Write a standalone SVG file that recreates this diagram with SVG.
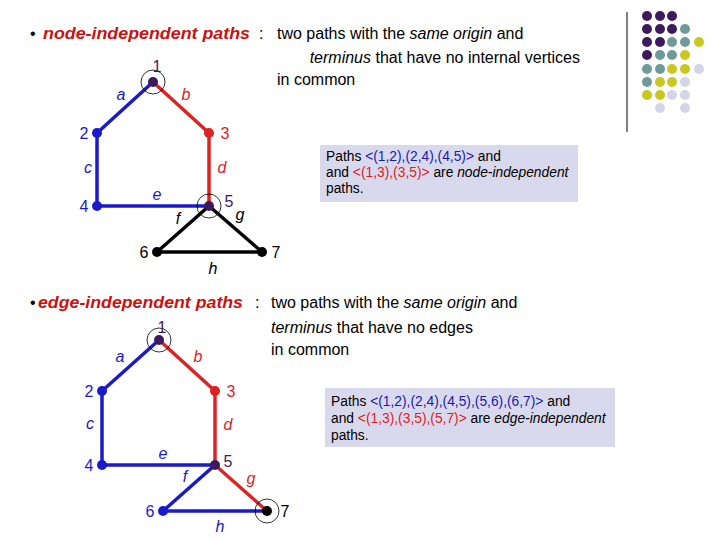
<svg xmlns="http://www.w3.org/2000/svg" width="720" height="540" viewBox="0 0 720 540">
<style>
text{font-family:"Liberation Sans",Arial,sans-serif}
.t{font-size:16px;fill:#000}
.h{font-size:17px;fill:#cc1111;font-style:italic;font-weight:bold}
.l{font-size:16px;font-style:italic}
.n{font-size:16px}
.bx{font-size:13.8px;fill:#000}
.B{stroke:#1a1acc;stroke-width:3.5}
.R{stroke:#dd2222;stroke-width:3.5}
.K{stroke:#000;stroke-width:3.5}
.ring{fill:none;stroke:#000;stroke-width:0.8}
.P{fill:#3d1a5e}.T{fill:#6f9a9a}.Y{fill:#c8c820}.L{fill:#d4d4ea}
</style>
<rect width="720" height="540" fill="#fff"/>
<g id="deco">
<line x1="627" y1="12" x2="627" y2="132" stroke="#000" stroke-width="1"/>
<circle class="P" cx="647" cy="16" r="5"/><circle class="P" cx="660" cy="16" r="5"/><circle class="P" cx="672" cy="16" r="5"/>
<circle class="P" cx="647" cy="29" r="5"/><circle class="P" cx="660" cy="29" r="5"/><circle class="P" cx="672" cy="29" r="5"/><circle class="T" cx="685" cy="29" r="5"/>
<circle class="P" cx="647" cy="42" r="5"/><circle class="P" cx="660" cy="42" r="5"/><circle class="T" cx="672" cy="42" r="5"/><circle class="T" cx="685" cy="42" r="5"/><circle class="Y" cx="699" cy="42" r="5"/>
<circle class="P" cx="647" cy="55" r="5"/><circle class="T" cx="660" cy="55" r="5"/><circle class="T" cx="672" cy="55" r="5"/><circle class="Y" cx="685" cy="55" r="5"/>
<circle class="T" cx="647" cy="69" r="5"/><circle class="T" cx="660" cy="69" r="5"/><circle class="Y" cx="672" cy="69" r="5"/><circle class="Y" cx="685" cy="69" r="5"/><circle class="L" cx="699" cy="69" r="5"/>
<circle class="T" cx="647" cy="82" r="5"/><circle class="Y" cx="660" cy="82" r="5"/><circle class="Y" cx="672" cy="82" r="5"/><circle class="L" cx="685" cy="82" r="5"/>
<circle class="Y" cx="647" cy="95" r="5"/><circle class="Y" cx="660" cy="95" r="5"/><circle class="L" cx="672" cy="95" r="5"/><circle class="L" cx="685" cy="95" r="5"/>
<circle class="L" cx="660" cy="108" r="5"/><circle class="L" cx="685" cy="108" r="5"/>
</g>
<g id="text-top">
<text x="30" y="39" class="t">•</text>
<text x="43" y="39" class="h" textLength="207" lengthAdjust="spacingAndGlyphs">node-independent paths</text>
<text x="259" y="39" class="t">:</text>
<text x="277" y="39" class="t">two paths with the <tspan font-style="italic">same origin</tspan> and</text>
<text x="580" y="63" class="t" text-anchor="end"><tspan font-style="italic">terminus</tspan> that have no internal vertices</text>
<text x="277" y="85" class="t">in common</text>
</g>
<g id="text-bottom">
<text x="30" y="308" class="t">•</text>
<text x="38" y="308" class="h" textLength="205" lengthAdjust="spacingAndGlyphs">edge-independent paths</text>
<text x="255" y="308" class="t">:</text>
<text x="271" y="308" class="t">two paths with the <tspan font-style="italic">same origin</tspan> and</text>
<text x="271" y="333" class="t"><tspan font-style="italic">terminus</tspan> that have no edges</text>
<text x="271" y="355" class="t">in common</text>
</g>
<g id="box-top">
<rect x="320" y="145" width="258" height="57" fill="#d9d9ee"/>
<text x="326" y="161" class="bx">Paths <tspan fill="#1a1aaa">&lt;(1,2),(2,4),(4,5)&gt;</tspan> and</text>
<text x="326" y="177" class="bx">and <tspan fill="#dd2222">&lt;(1,3),(3,5)&gt;</tspan> are <tspan font-style="italic">node-independent</tspan></text>
<text x="326" y="193" class="bx">paths.</text>
</g>
<g id="box-bottom">
<rect x="325" y="388" width="290" height="59" fill="#d9d9ee"/>
<text x="331" y="406" class="bx">Paths <tspan fill="#1a1aaa">&lt;(1,2),(2,4),(4,5),(5,6),(6,7)&gt;</tspan> and</text>
<text x="331" y="423" class="bx">and <tspan fill="#dd2222">&lt;(1,3),(3,5),(5,7)&gt;</tspan> are <tspan font-style="italic">edge-independent</tspan></text>
<text x="331" y="440" class="bx">paths.</text>
</g>
<g id="connectors">
<line class="B" x1="153" y1="82" x2="97" y2="133"/>
<line class="B" x1="97" y1="133" x2="97" y2="206"/>
<line class="B" x1="97" y1="206" x2="209" y2="206"/>
<line class="R" x1="153" y1="82" x2="209" y2="133"/>
<line class="R" x1="209" y1="133" x2="209" y2="206"/>
<line class="K" x1="209" y1="206" x2="157" y2="252"/>
<line class="K" x1="209" y1="206" x2="262" y2="252"/>
<line class="K" x1="157" y1="252" x2="262" y2="252"/>
<line class="B" x1="159" y1="340" x2="102" y2="391"/>
<line class="B" x1="102" y1="391" x2="102" y2="465"/>
<line class="B" x1="102" y1="465" x2="215" y2="465"/>
<line class="R" x1="159" y1="340" x2="215" y2="391"/>
<line class="R" x1="215" y1="391" x2="215" y2="465"/>
<line class="B" x1="215" y1="465" x2="163" y2="511"/>
<line class="R" x1="215" y1="465" x2="267" y2="511"/>
<line class="B" x1="163" y1="511" x2="267" y2="511"/>
</g>
<g id="graph-top">
<g id="t1"><circle cx="153" cy="82" r="5" fill="#3d1a5e"/><circle class="ring" cx="153" cy="82" r="12"/><text x="157" y="72" class="n" fill="#3d1a5e" text-anchor="middle">1</text></g>
<g id="t2"><circle cx="97" cy="133" r="5" fill="#1a1acc"/><text x="84" y="139" class="n" fill="#1a1acc" text-anchor="middle">2</text></g>
<g id="t3"><circle cx="209" cy="133" r="5" fill="#dd2222"/><text x="225" y="139" class="n" fill="#dd2222" text-anchor="middle">3</text></g>
<g id="t4"><circle cx="97" cy="206" r="5" fill="#1a1acc"/><text x="84" y="212" class="n" fill="#1a1acc" text-anchor="middle">4</text></g>
<g id="t5"><circle cx="209" cy="206" r="5" fill="#3d1a5e"/><circle class="ring" cx="209" cy="206" r="12"/><text x="229" y="207" class="n" fill="#3d1a5e" text-anchor="middle">5</text></g>
<g id="t6"><circle cx="157" cy="252" r="5" fill="#000"/><text x="144" y="258" class="n" text-anchor="middle">6</text></g>
<g id="t7"><circle cx="262" cy="252" r="5" fill="#000"/><text x="276" y="258" class="n" text-anchor="middle">7</text></g>
<text x="121" y="100" class="l" fill="#1a1acc" text-anchor="middle">a</text>
<text x="186" y="100" class="l" fill="#dd2222" text-anchor="middle">b</text>
<text x="88" y="173" class="l" fill="#1a1acc" text-anchor="middle">c</text>
<text x="222" y="173" class="l" fill="#dd2222" text-anchor="middle">d</text>
<text x="157" y="200" class="l" fill="#1a1acc" text-anchor="middle">e</text>
<text x="178" y="224" class="l" text-anchor="middle">f</text>
<text x="240" y="220" class="l" text-anchor="middle">g</text>
<text x="213" y="274" class="l" text-anchor="middle">h</text>
</g>
<g id="graph-bottom">
<g id="b1"><circle cx="159" cy="340" r="5" fill="#3d1a5e"/><circle class="ring" cx="159" cy="340" r="12"/><text x="162" y="333" class="n" fill="#3d1a5e" text-anchor="middle">1</text></g>
<g id="b2"><circle cx="102" cy="391" r="5" fill="#1a1acc"/><text x="89" y="397" class="n" fill="#1a1acc" text-anchor="middle">2</text></g>
<g id="b3"><circle cx="215" cy="391" r="5" fill="#dd2222"/><text x="231" y="397" class="n" fill="#dd2222" text-anchor="middle">3</text></g>
<g id="b4"><circle cx="102" cy="465" r="5" fill="#1a1acc"/><text x="89" y="471" class="n" fill="#1a1acc" text-anchor="middle">4</text></g>
<g id="b5"><circle cx="215" cy="465" r="5" fill="#3d1a5e"/><text x="228" y="467" class="n" fill="#3d1a5e" text-anchor="middle">5</text></g>
<g id="b6"><circle cx="163" cy="511" r="5" fill="#1a1acc"/><text x="150" y="517" class="n" fill="#1a1acc" text-anchor="middle">6</text></g>
<g id="b7"><circle cx="267" cy="511" r="5" fill="#000"/><circle class="ring" cx="267" cy="511" r="12"/><text x="285" y="517" class="n" text-anchor="middle">7</text></g>
<text x="120" y="362" class="l" fill="#1a1acc" text-anchor="middle">a</text>
<text x="198" y="362" class="l" fill="#dd2222" text-anchor="middle">b</text>
<text x="90" y="429" class="l" fill="#1a1acc" text-anchor="middle">c</text>
<text x="228" y="430" class="l" fill="#dd2222" text-anchor="middle">d</text>
<text x="163" y="459" class="l" fill="#1a1acc" text-anchor="middle">e</text>
<text x="185" y="482" class="l" fill="#1a1acc" text-anchor="middle">f</text>
<text x="251" y="484" class="l" fill="#dd2222" text-anchor="middle">g</text>
<text x="220" y="532" class="l" fill="#1a1acc" text-anchor="middle">h</text>
</g>
</svg>
